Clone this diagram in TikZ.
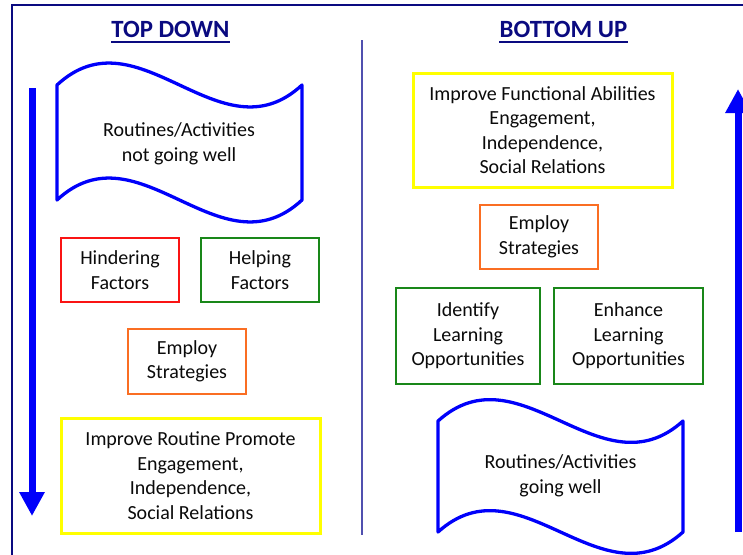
\documentclass[tikz,border=0pt]{standalone}
\usepackage{fontspec}
\setmainfont{Carlito}
\usetikzlibrary{arrows.meta}
\definecolor{navy}{RGB}{10,10,128}
\definecolor{divc}{RGB}{80,80,175}
\definecolor{txt}{RGB}{10,10,10}
\definecolor{bred}{RGB}{250,20,20}
\definecolor{bgreen}{RGB}{25,135,25}
\definecolor{borange}{RGB}{250,110,35}
\definecolor{byellow}{RGB}{255,255,0}
\definecolor{bblue}{RGB}{0,0,250}
\tikzset{
  bx/.style={draw=#1, line width=2.5pt, inner sep=0pt, align=center, text=txt,
    font=\fontsize{20}{24.5}\selectfont},
  ybx/.style={bx=byellow, line width=3pt},
  wave/.style={draw=bblue, line width=3.3pt, line join=round},
  wtext/.style={align=center, text=txt, inner sep=0pt, font=\fontsize{20}{24.5}\selectfont},
  title/.style={inner sep=0pt, anchor=base, text=navy, font=\fontsize{24.8}{28}\selectfont\bfseries},
  uline/.style={draw=navy, line width=2pt},
  bigarrow/.style={draw=bblue, line width=7pt, -{Triangle[width=24pt,length=24pt]}},
}
\begin{document}
\begin{tikzpicture}[x=1pt,y=-1pt]
\useasboundingbox (0,0) rectangle (743,554);
\clip (0,0) rectangle (743,554);
% frame and divider
\draw[navy, line width=1.5pt] (12,560) -- (12,5) -- (750,5);
\draw[divc, line width=2pt] (362,40) -- (362,535);
% titles
\node[title] (t1) at (170.5,37.5) {TOP DOWN};
\draw[uline] ([yshift=-4.2pt]t1.base west) -- ([yshift=-4.2pt]t1.base east);
\node[title] (t2) at (563.5,37.5) {BOTTOM UP};
\draw[uline] ([yshift=-4.2pt]t2.base west) -- ([yshift=-4.2pt]t2.base east);
% arrows
\coordinate (la1) at (32,88);
\coordinate (la2) at (32,516);
\draw[bigarrow] (la1) -- (la2);
\coordinate (ra1) at (738,532);
\coordinate (ra2) at (738,89);
\draw[bigarrow] (ra1) -- (ra2);
% left column
\draw[wave] (57,85) .. controls (139,9) and (220,161) .. (302,85) -- (302,200)
  .. controls (220,276) and (139,124) .. (57,200) -- cycle;
\node[wtext] (lw) at (179,144) {Routines/Activities\\not going well};
\node[bx=bred, minimum width=118pt, minimum height=64pt] (hind) at (120,270) {Hindering\\Factors};
\node[bx=bgreen, minimum width=118pt, minimum height=64pt] (help) at (260,270) {Helping\\Factors};
\node[bx=borange, minimum width=118pt, minimum height=65pt] (emp1) at (187,361.5) {Employ\\Strategies};
\node[ybx, minimum width=259pt, minimum height=115pt] (imp1) at (190.5,475.5) {Improve Routine Promote\\Engagement,\\Independence,\\Social Relations};
% right column
\node[ybx, minimum width=259pt, minimum height=114pt] (imp2) at (542.5,130) {Improve Functional Abilities\\Engagement,\\Independence,\\Social Relations};
\node[bx=borange, minimum width=118pt, minimum height=64pt] (emp2) at (539,237) {Employ\\Strategies};
\node[bx=bgreen, minimum width=144pt, minimum height=96pt] (ident) at (468,336) {Identify\\Learning\\Opportunities};
\node[bx=bgreen, minimum width=149pt, minimum height=96pt] (enh) at (628.5,336) {Enhance\\Learning\\Opportunities};
\draw[wave] (438,421) .. controls (520,347) and (601,495) .. (683,421) -- (683,532)
  .. controls (601,606) and (520,458) .. (438,532) -- cycle;
\node[wtext] (rw) at (560.5,476) {Routines/Activities\\going well};
\end{tikzpicture}
\end{document}
